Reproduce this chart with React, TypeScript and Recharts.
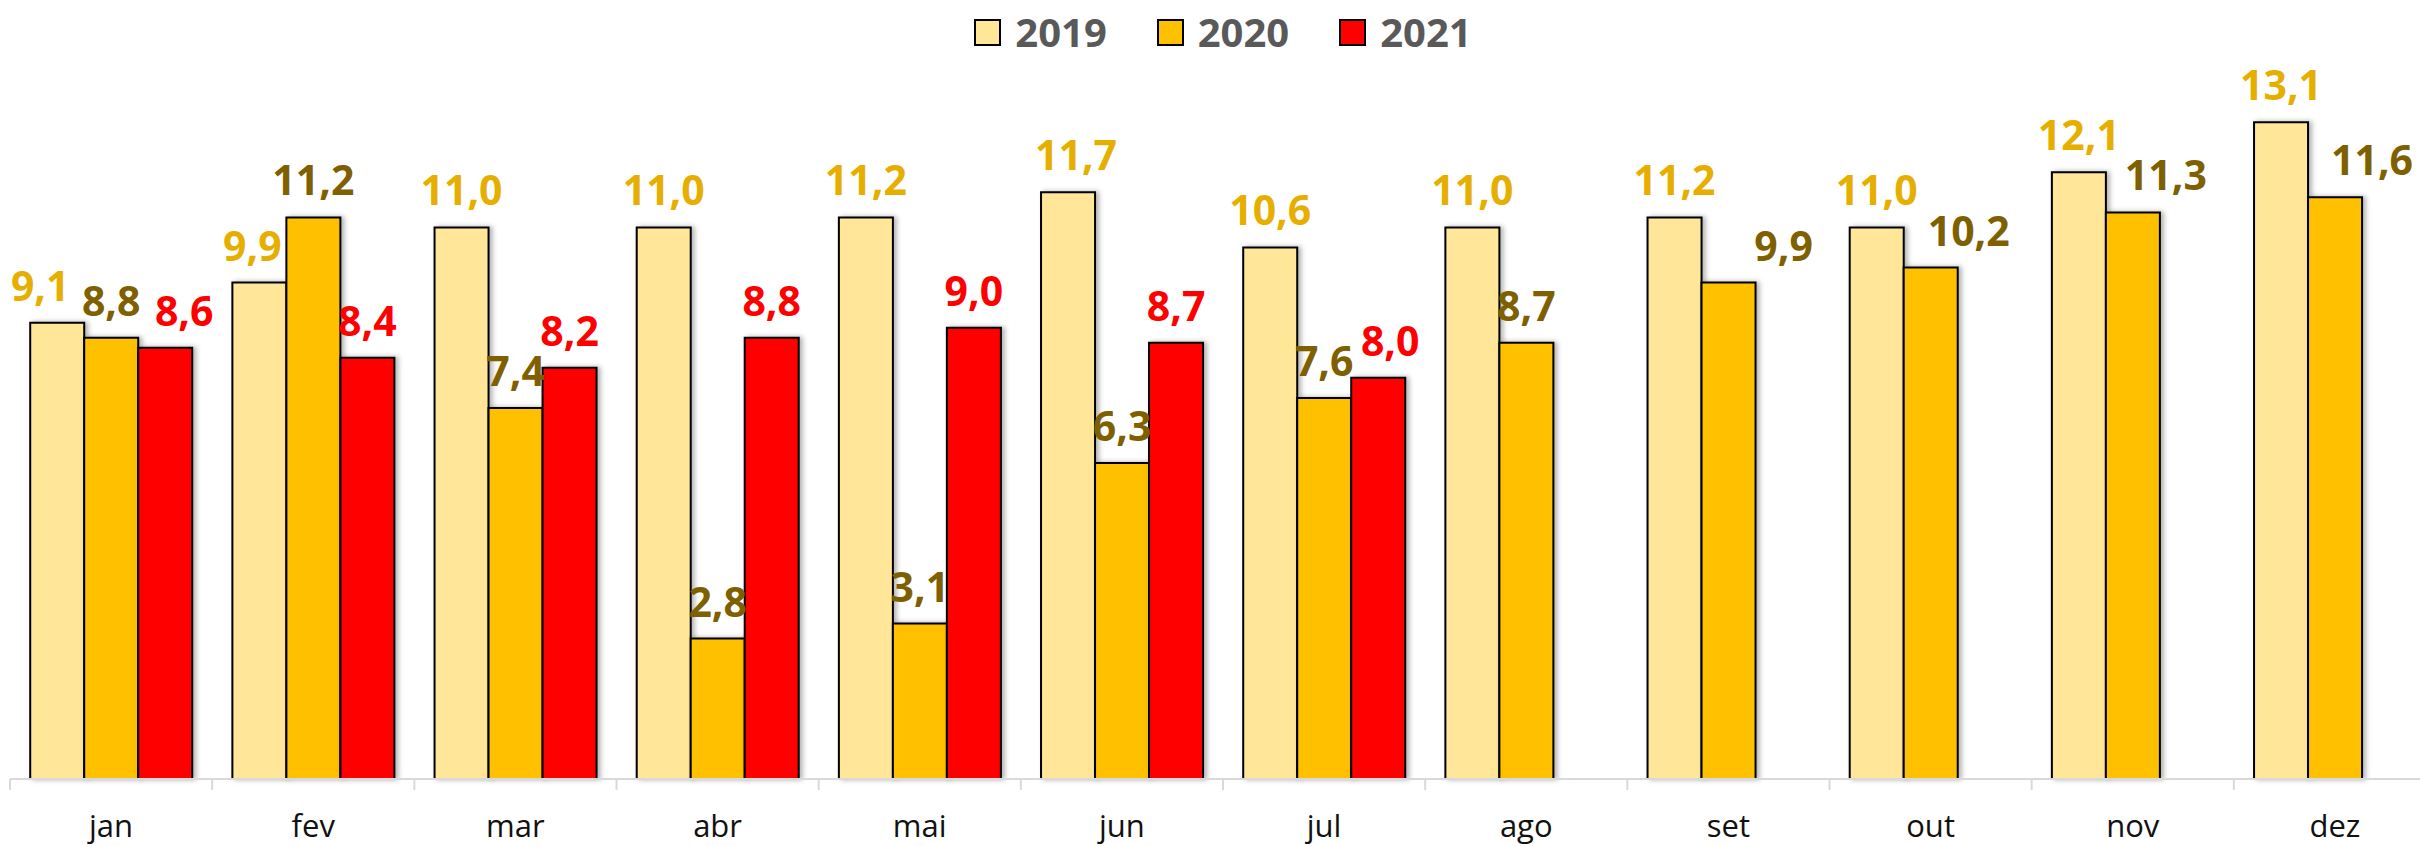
import { BarChart, Bar, XAxis, YAxis, Legend, LabelList } from 'recharts';

const months = ['jan', 'fev', 'mar', 'abr', 'mai', 'jun', 'jul', 'ago', 'set', 'out', 'nov', 'dez'];
const v2019 = [9.1, 9.9, 11.0, 11.0, 11.2, 11.7, 10.6, 11.0, 11.2, 11.0, 12.1, 13.1];
const v2020 = [8.8, 11.2, 7.4, 2.8, 3.1, 6.3, 7.6, 8.7, 9.9, 10.2, 11.3, 11.6];
const v2021 = [8.6, 8.4, 8.2, 8.8, 9.0, 8.7, 8.0, null, null, null, null, null];

const data = months.map((m, i) => ({ month: m, y2019: v2019[i], y2020: v2020[i], y2021: v2021[i] }));

const series = [
  { key: 'y2019', name: '2019', fill: '#FFE699', label: '#E6AF00' },
  { key: 'y2020', name: '2020', fill: '#FFC000', label: '#7F6000' },
  { key: 'y2021', name: '2021', fill: '#FF0000', label: '#FF0000' },
];

// hand-placed label nudges (px), like the original's moved labels
const labelNudge: Record<string, number> = {
  'y2019-jan': -17,
  'y2019-fev': -7,
  'y2019-jun': 8,
  'y2021-jan': 19,
  'y2021-jul': 12,
  'y2020-set': 55,
  'y2020-out': 38,
  'y2020-nov': 33,
  'y2020-dez': 37,
};

const W = 2446;
const H = 846;
const ML = 10;
const MR = 10;
const AXIS_Y = 779;
const BAND = (W - ML - MR) / months.length;
const FONT = '"Open Sans", "Noto Sans", sans-serif';

const fmt = (v: number) => v.toFixed(1).replace('.', ',');

function MonthTick(props: any) {
  const { x, payload, index } = props;
  return (
    <g>
      <line x1={x - BAND / 2} x2={x - BAND / 2} y1={AXIS_Y} y2={AXIS_Y + 11} stroke="#d9d9d9" strokeWidth={2} />
      {index === months.length - 1 && (
        <line x1={x + BAND / 2} x2={x + BAND / 2} y1={AXIS_Y} y2={AXIS_Y + 11} stroke="#d9d9d9" strokeWidth={2} />
      )}
      <text x={x} y={AXIS_Y + 58} textAnchor="middle" fontFamily={FONT} fontSize={31} fill="#111">
        {payload.value}
      </text>
    </g>
  );
}

function makeLabel(color: string, key: string) {
  return (props: any) => {
    const { x, y, width, value, index } = props;
    if (value == null) return null;
    const dx = labelNudge[`${key}-${months[index]}`] ?? 0;
    return (
      <text
        x={x + width / 2 + dx}
        y={y - 22}
        textAnchor="middle"
        fontFamily={FONT}
        fontWeight={700}
        fontSize={41}
        fill={color}
      >
        {fmt(value)}
      </text>
    );
  };
}

function LegendBox() {
  return (
    <div style={{ height: 77, display: 'flex', justifyContent: 'center', alignItems: 'flex-start', paddingTop: 7, boxSizing: 'border-box' }}>
      {series.map((s, i) => (
        <div key={s.key} style={{ display: 'flex', alignItems: 'center', marginLeft: i === 0 ? 0 : 50 }}>
          <span style={{ width: 23, height: 23, background: s.fill, border: '2px solid #000', display: 'inline-block', marginRight: 14 }} />
          <span style={{ fontFamily: FONT, fontWeight: 700, fontSize: 40, color: '#595959', lineHeight: '50px' }}>{s.name}</span>
        </div>
      ))}
    </div>
  );
}

export default function App() {
  return (
    <div style={{ position: 'absolute', left: 0, top: 0, width: 2420, height: 846, overflow: 'hidden', background: '#fff' }}>
      <BarChart
        width={W}
        height={H}
        data={data}
        margin={{ top: 0, right: MR, bottom: 7, left: ML }}
        barCategoryGap="10%"
        barGap={0}
      >
        <defs>
          <filter id="barShadow" x="-20%" y="-5%" width="150%" height="110%">
            <feDropShadow dx={3} dy={0} stdDeviation={2.5} floodColor="#000" floodOpacity={0.3} />
          </filter>
        </defs>
        <Legend verticalAlign="top" content={() => <LegendBox />} />
        <XAxis
          dataKey="month"
          height={60}
          axisLine={{ stroke: '#d9d9d9', strokeWidth: 2 }}
          tickLine={false}
          interval={0}
          tick={<MonthTick />}
        />
        <YAxis hide domain={[0, 14]} />
        {series.map((s) => (
          <Bar
            key={s.key}
            dataKey={s.key}
            name={s.name}
            fill={s.fill}
            stroke="#000"
            strokeWidth={2}
            filter="url(#barShadow)"
            isAnimationActive={false}
          >
            <LabelList dataKey={s.key} content={makeLabel(s.label, s.key)} />
          </Bar>
        ))}
      </BarChart>
    </div>
  );
}
